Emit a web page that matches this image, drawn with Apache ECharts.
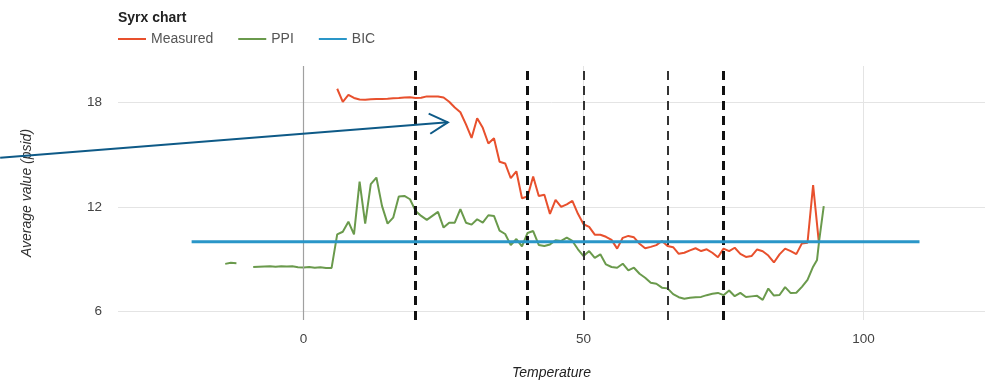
<!DOCTYPE html>
<html><head><meta charset="utf-8">
<script src="https://cdn.jsdelivr.net/npm/echarts@6/dist/echarts.min.js"></script>
<style>html,body{margin:0;padding:0;background:#fff}#c{width:985px;height:381px}</style>
</head><body><div id="c"></div>
<script>
// ---- data ----
const titleText = 'Syrx chart';
const seriesNames = ['Measured', 'PPI', 'BIC'];
const xTicks = [0, 50, 100];
const yTicks = [6, 12, 18];

const measuredX = [6,7,8,9,10,11,12,13,14,15,16,17,18,19,20,21,22,23,24,25,26,27,28,29,30,31,32,33,34,35,36,37,38,39,40,41,42,43,44,45,46,47,48,49,50,51,52,53,54,55,56,57,58,59,60,61,62,63,64,65,66,67,68,69,70,71,72,73,74,75,76,77,78,79,80,81,82,83,84,85,86,87,88,89,90,91,92];
const measuredY = [18.8,18.05,18.45,18.27,18.18,18.17,18.2,18.21,18.21,18.22,18.25,18.27,18.3,18.31,18.27,18.28,18.36,18.36,18.36,18.3,18.05,17.72,17.45,16.75,15.97,17.1,16.55,15.65,15.95,14.6,14.5,13.65,14.05,12.5,12.6,13.75,12.63,12.7,11.6,12.4,12.0,12.15,12.35,11.6,11.0,10.85,10.4,10.4,10.28,10.1,9.6,10.22,10.33,10.25,9.88,9.62,9.7,9.8,10.04,9.75,9.68,9.3,9.36,9.5,9.62,9.46,9.56,9.36,9.1,9.6,9.45,9.65,9.3,9.12,9.17,9.55,9.45,9.2,8.8,9.27,9.6,9.45,9.28,9.9,9.94,13.25,10.05];

const ppiX = [-14,-13,-12,-11,-9,-8,-7,-6,-5,-4,-3,-2,-1,0,1,2,3,4,5,6,7,8,9,10,11,12,13,14,15,16,17,18,19,20,21,22,23,24,25,26,27,28,29,30,31,32,33,34,35,36,37,38,39,40,41,42,43,44,45,46,47,48,49,50,51,52,53,54,55,56,57,58,59,60,61,62,63,64,65,66,67,68,69,70,71,72,73,74,75,76,77,78,79,80,81,82,83,84,85,86,87,88,89,90,91,91.7,92.1,92.9];
const ppiY = [8.72,8.78,8.76,null,8.54,8.56,8.57,8.58,8.56,8.58,8.57,8.58,8.53,8.51,8.54,8.5,8.52,8.48,8.49,10.42,10.57,11.15,10.42,13.46,11.04,13.31,13.69,12.06,11.04,11.38,12.6,12.63,12.44,11.77,11.48,11.25,11.48,11.71,10.81,11.09,11.09,11.87,11.09,10.98,11.29,11.09,11.52,11.48,10.63,10.44,9.8,10.15,9.73,10.5,10.61,9.81,9.75,9.84,10.08,10.04,10.23,10.04,9.56,9.17,9.46,9.07,9.27,8.69,8.54,8.5,8.73,8.35,8.5,8.15,7.92,7.63,7.58,7.35,7.31,6.98,6.8,6.71,6.77,6.8,6.82,6.92,7.0,7.05,6.92,7.19,6.86,7.05,6.81,6.85,6.88,6.65,7.3,6.9,6.93,7.38,7.04,7.06,7.4,7.8,8.56,8.95,10.1,12.05];

const bicX = [-20, 110];
const bicY = [10, 10];

const markerX = [20, 40, 50, 65, 75];
const markerBold = [true, true, false, false, true];

const arrowFrom = [-54.2, 14.83];
const arrowTo = [25.76, 16.87];

// ---- build ----
function pairs(xs, ys) { return xs.map((x, i) => [x, ys[i] == null ? '-' : ys[i]]); }

const colors = { Measured: '#e8502d', PPI: '#6a9a4c', BIC: '#2a96c8' };
const font = 'Arial, "Liberation Sans", sans-serif';

const chart = echarts.init(document.getElementById('c'), null, { renderer: 'canvas' });

const option = {
  animation: false,
  backgroundColor: '#ffffff',
  textStyle: { fontFamily: font },
  title: {
    text: titleText, left: 113, top: 6,
    textStyle: { fontFamily: font, fontSize: 14, fontWeight: 'bold', color: '#222' }
  },
  legend: {
    data: seriesNames, left: 118, top: 32, padding: 0, icon: 'rect',
    itemWidth: 28, itemHeight: 2, itemGap: 25,
    textStyle: { fontFamily: font, fontSize: 14, color: '#555' }
  },
  grid: { left: 118, right: 0, top: 66, bottom: 61, containLabel: false, outerBoundsMode: 'none' },
  xAxis: {
    type: 'value', min: -33.15, max: 121.7,
    name: 'Temperature', nameLocation: 'middle', nameGap: 46,
    nameTextStyle: { fontFamily: font, fontSize: 14, fontStyle: 'italic', color: '#222' },
    axisLine: { show: false },
    axisTick: { show: false, customValues: xTicks },
    axisLabel: { customValues: xTicks, margin: 12, fontSize: 13.5, color: '#444', fontFamily: font },
    splitLine: { show: true, lineStyle: { color: '#e4e4e4', width: 1 } }
  },
  yAxis: {
    type: 'value', min: 5.49, max: 20.11,
    name: 'Average value (psid)', nameLocation: 'middle', nameGap: 84,
    nameTextStyle: { fontFamily: font, fontSize: 14, fontStyle: 'italic', color: '#333' },
    axisLine: { show: false },
    axisTick: { show: false, customValues: yTicks },
    axisLabel: { customValues: yTicks, margin: 16, fontSize: 13.5, color: '#444', fontFamily: font },
    splitLine: { show: true, lineStyle: { color: '#e4e4e4', width: 1 } }
  },
  series: [
    {
      name: 'zero', type: 'line', data: [], z: 1, silent: true,
      markLine: { silent: true, symbol: ['none','none'], label: { show: false },
        lineStyle: { color: '#a0a0a0', width: 1.2, type: 'solid' },
        data: [{ xAxis: 0 }] }
    },
    {
      name: 'Measured', type: 'line', data: pairs(measuredX, measuredY), showSymbol: false, symbol: 'none',
      lineStyle: { color: colors.Measured, width: 2 }, itemStyle: { color: colors.Measured }, z: 3
    },
    {
      name: 'PPI', type: 'line', data: pairs(ppiX, ppiY), showSymbol: false, symbol: 'none', connectNulls: false,
      lineStyle: { color: colors.PPI, width: 2 }, itemStyle: { color: colors.PPI }, z: 3
    },
    {
      name: 'BIC', type: 'line', data: pairs(bicX, bicY), showSymbol: false, symbol: 'none',
      lineStyle: { color: colors.BIC, width: 3 }, itemStyle: { color: colors.BIC }, z: 5
    },
    {
      name: 'markers', type: 'line', data: [], z: 4, silent: true,
      markLine: { silent: true, symbol: ['none','none'], label: { show: false },
        data: markerX.map((x, i) => ({ xAxis: x,
          lineStyle: markerBold[i]
            ? { color: '#111', width: 3, type: [9, 6] }
            : { color: '#333', width: 2, type: [9, 6] } })) }
    }
  ]
};
chart.setOption(option);

// arrow annotation placed through the chart's own scales
const p1 = chart.convertToPixel({ gridIndex: 0 }, arrowFrom);
const p2 = chart.convertToPixel({ gridIndex: 0 }, arrowTo);
const ang = Math.atan2(p2[1] - p1[1], p2[0] - p1[0]);
const L = 21, spread = 0.5;
const a1 = [p2[0] - L * Math.cos(ang - spread), p2[1] - L * Math.sin(ang - spread)];
const a2 = [p2[0] - L * Math.cos(ang + spread), p2[1] - L * Math.sin(ang + spread)];
const arrowColor = '#0e5a87';
chart.setOption({
  graphic: [
    { type: 'line', z: 10, shape: { x1: p1[0], y1: p1[1], x2: p2[0], y2: p2[1] },
      style: { stroke: arrowColor, lineWidth: 2 } },
    { type: 'polyline', z: 10, shape: { points: [a1, p2, a2] },
      style: { stroke: arrowColor, lineWidth: 2, fill: null } }
  ]
});
</script>
</body></html>
